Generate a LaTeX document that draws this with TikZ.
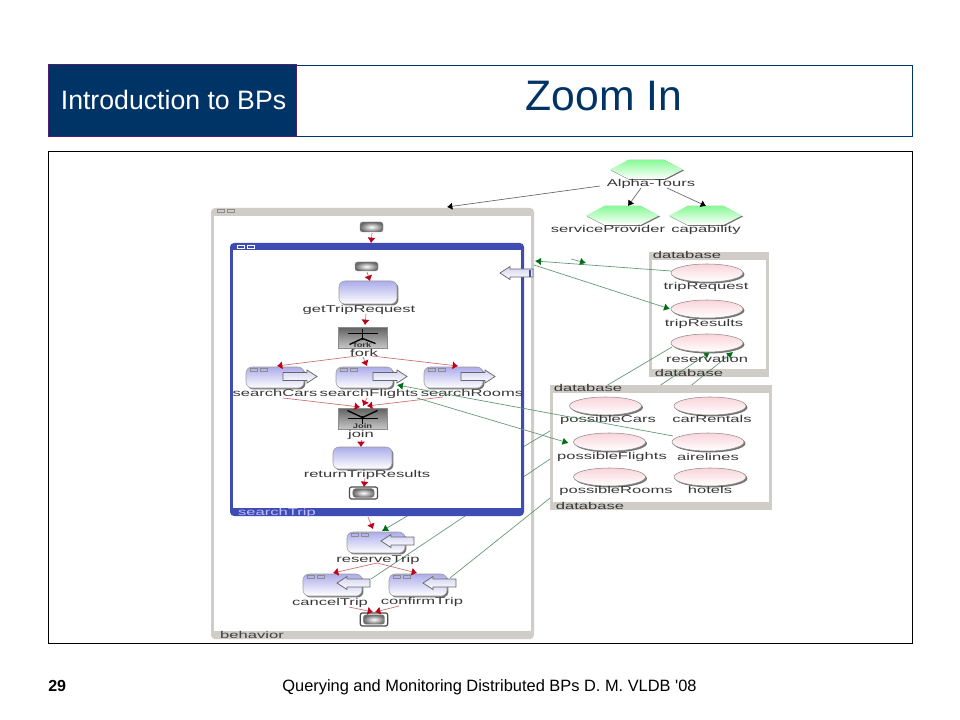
\documentclass[tikz,border=0pt]{standalone}
\usepackage{fontspec}
\setmainfont{Liberation Sans}
\newfontfamily\plainfont{Liberation Sans}
\usetikzlibrary{arrows.meta,shapes.geometric,shadows}
\pgfdeclarelayer{back}
\pgfdeclarelayer{lines}
\pgfsetlayers{back,lines,main}
\definecolor{navy}{RGB}{0,51,102}
\definecolor{edgepurple}{RGB}{80,30,110}
\definecolor{band}{RGB}{208,205,200}
\definecolor{sblue}{RGB}{62,76,180}
\definecolor{lav}{RGB}{172,172,235}
\definecolor{pinky}{RGB}{250,212,218}
\definecolor{mint}{RGB}{135,250,150}
\definecolor{ltxt}{RGB}{55,55,55}
\definecolor{gline}{RGB}{95,150,115}
\definecolor{ghead}{RGB}{0,110,20}
\definecolor{rline}{RGB}{200,110,110}
\definecolor{rhead}{RGB}{190,0,25}
\tikzset{
  lbl/.style={inner sep=0pt,outer sep=0pt,text=ltxt,xscale=1.68,text height=5.6pt,text depth=0.6pt,font=\fontsize{7.4pt}{9pt}\selectfont},
  shadowed/.style={drop shadow={shadow xshift=1.1pt,shadow yshift=-1.1pt,fill=black!55,opacity=1}},
  activity/.style={rectangle,rounded corners=4.5pt,draw=black!40,line width=0.4pt,top color=lav,bottom color=white,inner sep=0pt,outer sep=0pt,shadowed},
  hexbox/.style={rectangle,inner sep=0pt,outer sep=0pt,minimum width=54.75pt,minimum height=14.25pt},
  ovalnode/.style={ellipse,draw=black!45,line width=0.4pt,top color=pinky,bottom color=white,inner sep=0pt,outer sep=0pt,minimum width=54pt,minimum height=13.5pt,shadowed},
  terminal/.style={rectangle,rounded corners=2pt,inner color=white,outer color=black!58,draw=black!50,line width=0.3pt,inner sep=0pt,outer sep=0pt},
  endwrap/.style={rectangle,rounded corners=1.5pt,draw=black!70,fill=white,line width=0.9pt,inner sep=0pt,outer sep=0pt},
  gatebox/.style={rectangle,draw=black!45,line width=0.5pt,top color=black!62,bottom color=black!22,inner sep=0pt,outer sep=0pt,minimum width=36.75pt,minimum height=15.75pt},
  framebox/.style={rectangle,inner sep=0pt,outer sep=0pt},
  redge/.style={draw=rline,line width=0.5pt,-{Latex[length=4pt,width=6pt,color=rhead]}},
  gedge/.style={draw=gline,line width=0.5pt,-{Latex[length=4.5pt,width=5.5pt,color=ghead]}},
  bedge/.style={draw=black!60,line width=0.5pt,-{Latex[length=4pt,width=5.5pt,color=black]}},
  gatemark/.style={draw=black,line width=1pt},
  portfill/.style={draw=black!60,line width=0.55pt,top color=lav!55,bottom color=white},
}
\newcommand{\hexa}[3]{%
  \node[hexbox] (#1) at (#2,#3) {};
  \fill[black!55] (#2-35.5,#3+1)--(#2-17,#3+10.5)--(#2+19,#3+10.5)--(#2+37.5,#3+1)--(#2+18,#3-9.5)--(#2-18,#3-9.5)--cycle;
  \shade[top color=mint,bottom color=white] (#2-36.5,#3)--(#2-18,#3-9.5)--(#2+18,#3-9.5)--(#2+36.5,#3)--(#2+18,#3+9.5)--(#2-18,#3+9.5)--cycle;}
\newcommand{\rport}[2]{\path[portfill] (#1,#2-4)--(#1+24,#2-4)--(#1+24,#2-6.5)--(#1+34,#2)--(#1+24,#2+6.5)--(#1+24,#2+4)--(#1,#2+4)--cycle;}
\newcommand{\lport}[2]{\path[portfill] (#1,#2)--(#1+10,#2-6.5)--(#1+10,#2-4)--(#1+33,#2-4)--(#1+33,#2+4)--(#1+10,#2+4)--(#1+10,#2+6.5)--cycle;}
\newcommand{\tinyicons}[3]{\draw[#3,line width=0.4pt] (#1,#2-1.5) rectangle (#1+7,#2+1.5) (#1+10,#2-1.5) rectangle (#1+17,#2+1.5);}
\begin{document}
\begin{tikzpicture}[x=0.75pt,y=-0.75pt]
\useasboundingbox (0,0) rectangle (960,720);
\begin{pgfonlayer}{back}
  \fill[white] (0,0) rectangle (960,720);
  \node[framebox,fill=band,rounded corners=3pt,minimum width=242.25pt,minimum height=323.25pt] (behavior) at (372.5,423.5) {};
  \fill[white] ([shift={(3,8)}]behavior.north west) rectangle ([shift={(-3,-8)}]behavior.south east);
  \node[framebox,fill=band,minimum width=90pt,minimum height=93.75pt] (dbone) at (709,314.5) {};
  \fill[white] ([shift={(3,8)}]dbone.north west) rectangle ([shift={(-3,-8)}]dbone.south east);
\end{pgfonlayer}
% slide furniture
\node[framebox,draw=navy,line width=0.6pt,minimum width=648pt,minimum height=53.25pt] (header) at (480.5,100.5) {};
\node[framebox,fill=navy,draw=edgepurple,line width=0.6pt,minimum width=186pt,minimum height=54pt] (intro) at (172.5,100) {};
\node[inner sep=0pt,text=white,font=\fontsize{20pt}{24pt}\selectfont] (introt) at (173.5,100) {Introduction to BPs};
\node[inner sep=0pt,text=navy,font=\fontsize{32pt}{38pt}\selectfont] (title) at (604,96) {Zoom In};
\node[framebox,draw=black,line width=0.75pt,minimum width=648pt,minimum height=368.25pt] (panel) at (480.5,397.5) {};
\node[inner sep=0pt,anchor=base west,font=\bfseries\fontsize{12pt}{14pt}\selectfont] (pageno) at (48,691) {29};
\node[inner sep=0pt,anchor=base,font=\plainfont\fontsize{12.3pt}{14pt}\selectfont] (footer) at (489.5,691) {Querying and Monitoring Distributed BPs D. M. VLDB '08};
% searchTrip and second database
\node[framebox,fill=sblue,rounded corners=3pt,minimum width=220.5pt,minimum height=204.75pt] (searchtrip) at (377,379.5) {};
\fill[white] ([shift={(3,7)}]searchtrip.north west) rectangle ([shift={(-3,-8)}]searchtrip.south east);
\node[framebox,fill=band,minimum width=166.5pt,minimum height=93.75pt] (dbtwo) at (661,447.5) {};
\fill[white] ([shift={(3,8)}]dbtwo.north west) rectangle ([shift={(-3,-8)}]dbtwo.south east);
\tinyicons{217}{211}{black!45}
\tinyicons{237}{246.5}{white}
\node[lbl,text=black!75] (behaviortext) at (252,635) {behavior};
\node[lbl,text=blue!25!white] (searchtext) at (277,512) {searchTrip};
\node[lbl] (dbalabel) at (687,255.5) {database};
\node[lbl] (dbblabel) at (689,373) {database};
\node[lbl] (dbclabel) at (588,388.5) {database};
\node[lbl] (dbdlabel) at (590,506) {database};
% hexagons
\hexa{alpha}{646.5}{169.5}
\hexa{provider}{622.5}{215.5}
\hexa{capab}{705.5}{215.5}
\node[lbl] (alphat) at (651,183.5) {Alpha-Tours};
\node[lbl] (providert) at (608,229.5) {serviceProvider};
\node[lbl] (capabt) at (706,229.5) {capability};
% ovals
\node[ovalnode] (triprequest) at (707,273) {};
\node[ovalnode] (tripresults) at (707,309) {};
\node[ovalnode] (reservation) at (707,343) {};
\node[lbl] (triprequestt) at (706,286.5) {tripRequest};
\node[lbl] (tripresultst) at (704,323) {tripResults};
\node[lbl] (reservationt) at (707,359) {reservation};
\node[ovalnode] (possiblecars) at (605.5,406) {};
\node[ovalnode] (carrentals) at (710,406) {};
\node[ovalnode] (possibleflights) at (609.5,442) {};
\node[ovalnode] (airelines) at (708,442) {};
\node[ovalnode] (possiblerooms) at (609.5,477) {};
\node[ovalnode] (hotels) at (710,477) {};
\node[lbl] (possiblecarst) at (608,419.5) {possibleCars};
\node[lbl] (carrentalst) at (712,419.5) {carRentals};
\node[lbl] (possibleflightst) at (612,456.5) {possibleFlights};
\node[lbl] (airelinest) at (708,457) {airelines};
\node[lbl] (possibleroomst) at (616,490) {possibleRooms};
\node[lbl] (hotelst) at (710,490) {hotels};
% terminals
\node[terminal,minimum width=17.25pt,minimum height=7.5pt] (starta) at (371.5,227) {};
\node[terminal,minimum width=17.25pt,minimum height=6.75pt] (startb) at (366.5,266.5) {};
\node[endwrap,minimum width=21pt,minimum height=9pt] (enda) at (363.5,493) {};
\node[terminal,minimum width=16pt,minimum height=6.5pt] (endacore) at (363.5,493) {};
\node[endwrap,minimum width=20.5pt,minimum height=9.75pt] (endb) at (374,619.5) {};
\node[terminal,minimum width=16pt,minimum height=7pt] (endbcore) at (374,619.5) {};
% activities
\node[activity,minimum width=43.5pt,minimum height=17.25pt] (gettrip) at (368,292.5) {};
\node[lbl] (gettript) at (359,309.5) {getTripRequest};
\node[gatebox] (fork) at (362.5,337.5) {};
\draw[gatemark] ([shift={(-15,-4)}]fork.center) -- ([shift={(15,-4)}]fork.center);
\draw[gatemark] ([shift={(0,-9)}]fork.center) -- ([shift={(0,2)}]fork.center);
\draw[gatemark] ([shift={(-13,7)}]fork.center) -- ([shift={(0,1)}]fork.center) -- ([shift={(13,6)}]fork.center);
\node[inner sep=0pt,text=black!80,font=\bfseries\fontsize{5pt}{6pt}\selectfont,xscale=1.4] (forkmark) at ([shift={(0,7.5)}]fork.center) {fork};
\node[lbl] (forkt) at (364,353) {fork};
\node[activity,minimum width=43.5pt,minimum height=15.75pt] (scars) at (275,377.5) {};
\node[activity,minimum width=42.75pt,minimum height=15.75pt] (sflights) at (364.5,377.5) {};
\node[activity,minimum width=44.25pt,minimum height=15.75pt] (srooms) at (453.5,377.5) {};
\tinyicons{250}{370}{black!45}
\tinyicons{340}{370}{black!45}
\tinyicons{428}{370}{black!45}
\rport{283}{376.5}
\rport{373}{376.5}
\rport{461}{376.5}
\node[lbl] (scarst) at (275,393) {searchCars};
\node[lbl] (sflightst) at (369,393) {searchFlights};
\node[lbl] (sroomst) at (472,393) {searchRooms};
\node[gatebox] (join) at (362.5,418.5) {};
\draw[gatemark] ([shift={(-15,-8)}]join.center) -- ([shift={(0,-1)}]join.center) -- ([shift={(15,-8)}]join.center);
\draw[gatemark] ([shift={(-15,0)}]join.center) -- ([shift={(15,0)}]join.center);
\draw[gatemark] ([shift={(0,-3)}]join.center) -- ([shift={(0,5)}]join.center);
\node[inner sep=0pt,text=black!80,font=\bfseries\fontsize{5pt}{6pt}\selectfont,xscale=1.4] (joinmark) at ([shift={(0,7.5)}]join.center) {Join};
\node[lbl] (joint) at (361,434.5) {join};
\node[activity,minimum width=44.25pt,minimum height=16.5pt] (returnres) at (362.5,458) {};
\node[lbl] (returnrest) at (367,474) {returnTripResults};
\lport{500}{273}
\draw[sblue,line width=1pt] (530,270) -- (530,277);
\node[activity,minimum width=43.5pt,minimum height=15.75pt] (reserve) at (376,542.5) {};
\node[activity,minimum width=44.25pt,minimum height=16.5pt] (cancel) at (332.5,585) {};
\node[activity,minimum width=43.5pt,minimum height=16.5pt] (confirm) at (418,585) {};
\tinyicons{351}{535}{black!45}
\tinyicons{307}{577}{black!45}
\tinyicons{393}{577}{black!45}
\lport{381}{541}
\lport{337}{583}
\lport{423}{583}
\node[lbl] (reservet) at (378,559) {reserveTrip};
\node[lbl] (cancelt) at (330,602) {cancelTrip};
\node[lbl] (confirmt) at (422,601) {confirmTrip};
% named free ends
\coordinate (shortA) at (571,259);
\coordinate (shortB) at (586,263);
\coordinate (bendA) at (606,386);
\coordinate (bendB) at (560,425);
% connectors hidden by frames
\begin{pgfonlayer}{lines}
  \draw[gedge] ([shift={(1,4)}]reservation.west) -- (bendA) -- (bendB) -- ([shift={(6,-1)}]reserve.north);
  \draw[gedge] ([shift={(9,-6)}]cancel.east) -- ([shift={(3,0)}]reservation.south);
  \draw[gedge] ([shift={(3,-7)}]confirm.east) -- ([shift={(26,0)}]reservation.south);
\end{pgfonlayer}
% black connectors
\draw[bedge] ([shift={(-46.5,7)}]alpha.south) -- ([shift={(74.5,-1)}]behavior.north);
\draw[bedge] ([shift={(-5.5,9)}]alpha.south) -- ([shift={(5.5,0)}]provider.north);
\draw[bedge] ([shift={(20.5,9)}]alpha.south) -- ([shift={(0.5,0)}]capab.north);
% red control flow
\draw[redge] ([shift={(0.5,1)}]starta.south) -- ([shift={(-6,0)}]searchtrip.north);
\draw[redge] ([shift={(0.5,1)}]startb.south) -- ([shift={(2,0)}]gettrip.north);
\draw[redge] ([shift={(-2,10)}]gettrip.south) -- ([shift={(2.5,-2)}]fork.north);
\draw[redge] ([shift={(-5.5,8)}]fork.south) -- ([shift={(2,-1)}]scars.north);
\draw[redge] ([shift={(0.5,9)}]fork.south) -- ([shift={(2.5,-1)}]sflights.north);
\draw[redge] ([shift={(9.5,8)}]fork.south) -- ([shift={(4.5,-1)}]srooms.north);
\draw[redge] ([shift={(8,10)}]scars.south) -- ([shift={(-2.5,-1)}]join.north);
\draw[redge] ([shift={(2.5,10)}]sflights.south) -- ([shift={(0.5,-2)}]join.north);
\draw[redge] ([shift={(-10.5,9)}]srooms.south) -- ([shift={(4.5,-2)}]join.north);
\draw[redge] ([shift={(-1.5,11)}]join.south) -- ([shift={(-1.5,0)}]returnres.north);
\draw[redge] ([shift={(2.5,9)}]returnres.south) -- ([shift={(0.5,0)}]enda.north);
\draw[redge] ([shift={(-9,1)}]searchtrip.south) -- ([shift={(-3,-3)}]reserve.north);
\draw[redge] ([shift={(1,10)}]reserve.south) -- ([shift={(0.5,-1)}]cancel.north);
\draw[redge] ([shift={(1,10)}]reserve.south) -- ([shift={(-1,-1)}]confirm.north);
\draw[redge] ([shift={(16.5,11)}]cancel.south) -- ([shift={(-1,-1)}]endb.north);
\draw[redge] ([shift={(-19,10)}]confirm.south) -- ([shift={(1,-1)}]endb.north);
% green data flow
\draw[gedge] ([shift={(0,-2)}]triprequest.west) -- ([shift={(1,53)}]behavior.north east);
\draw[gedge] (shortA) -- (shortB);
\draw[gedge] ([shift={(0,57)}]behavior.north east) -- ([shift={(-1,0)}]tripresults.west);
\draw[gedge] ([shift={(1,-6)}]airelines.west) -- ([shift={(4,7.5)}]sflights.east);
\draw[gedge] ([shift={(24,10)}]sflights.south east) -- ([shift={(-5,1)}]possibleflights.west);
\end{tikzpicture}
\end{document}
